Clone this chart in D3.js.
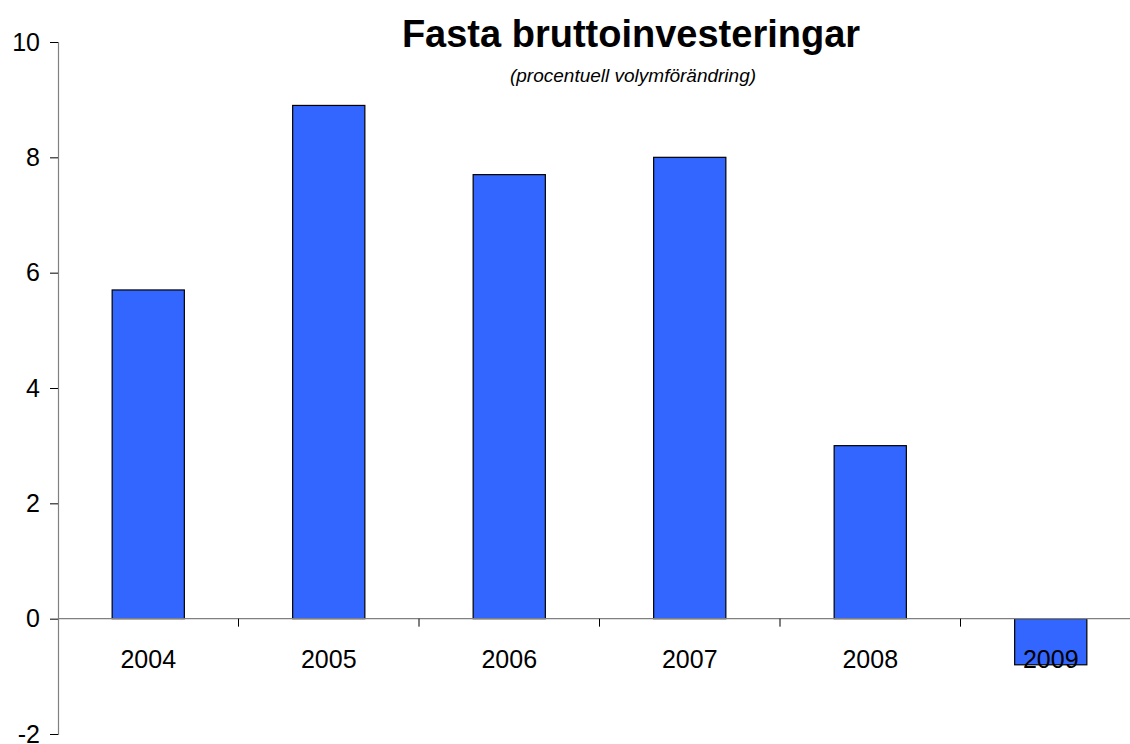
<!DOCTYPE html>
<html>
<head>
<meta charset="utf-8">
<script src="https://cdn.jsdelivr.net/npm/d3@7"></script>
<style>
  body { margin: 0; background: #fff; }
  svg { display: block; font-family: Arial, "Liberation Sans", sans-serif; }
</style>
</head>
<body>
<div id="chart"></div>
<script>
// Chart data
const years = ['2004', '2005', '2006', '2007', '2008', '2009'];
const values = [5.7, 8.9, 7.7, 8.0, 3.0, -0.8];
const yTicks = [-2, 0, 2, 4, 6, 8, 10];

const width = 1130, height = 744;

// Plot area (runs a bit past the right edge, like the original)
const plot = { left: 58, right: 1141, top: 42, bottom: 734 };

const svg = d3.select('#chart').append('svg')
  .attr('width', width)
  .attr('height', height);

// Scales
const x = d3.scaleBand()
  .domain(years)
  .range([plot.left, plot.right])
  .paddingInner(0.6)
  .paddingOuter(0.3);
const y = d3.scaleLinear()
  .domain([-2, 10])
  .range([plot.bottom, plot.top]);

// Bars
svg.append('g').selectAll('rect')
  .data(years)
  .join('rect')
  .attr('x', d => x(d))
  .attr('y', (d, i) => y(Math.max(0, values[i])))
  .attr('width', x.bandwidth())
  .attr('height', (d, i) => Math.abs(y(values[i]) - y(0)))
  .attr('fill', '#3366FF')
  .attr('stroke', '#000')
  .attr('stroke-width', 1.2);

// Y axis
const yAxis = svg.append('g')
  .attr('transform', `translate(${plot.left}, 0)`)
  .call(d3.axisLeft(y).tickValues(yTicks).tickSize(8).tickPadding(10).tickFormat(d => String(d)));
yAxis.attr('font-size', null).attr('font-family', null);
yAxis.select('.domain').attr('stroke', '#808080').attr('stroke-width', 1.2);
yAxis.selectAll('.tick line').attr('stroke', '#000');
yAxis.selectAll('.tick text')
  .style('font-size', '25px')
  .attr('fill', '#000');

// X axis at zero, ticks between categories
const step = x.step();
const sepTicks = years.slice(1).map(d => x(d) - x.paddingInner() * step / 2);
svg.append('line')
  .attr('x1', plot.left).attr('x2', width)
  .attr('y1', y(0)).attr('y2', y(0))
  .attr('stroke', '#808080')
  .attr('stroke-width', 1.2);
svg.append('g').selectAll('line')
  .data(sepTicks)
  .join('line')
  .attr('x1', d => d).attr('x2', d => d)
  .attr('y1', y(0)).attr('y2', y(0) + 8)
  .attr('stroke', '#000');

// Category labels
svg.append('g').selectAll('text')
  .data(years)
  .join('text')
  .attr('x', d => x(d) + x.bandwidth() / 2)
  .attr('y', y(0) + 49)
  .attr('text-anchor', 'middle')
  .style('font-size', '25px')
  .text(d => d);

// Titles
svg.append('text')
  .attr('x', 631)
  .attr('y', 47)
  .attr('text-anchor', 'middle')
  .style('font-size', '38px')
  .style('font-weight', 'bold')
  .text('Fasta bruttoinvesteringar');
svg.append('text')
  .attr('x', 633)
  .attr('y', 82)
  .attr('text-anchor', 'middle')
  .style('font-size', '19px')
  .style('font-style', 'italic')
  .text('(procentuell volymförändring)');
</script>
</body>
</html>
